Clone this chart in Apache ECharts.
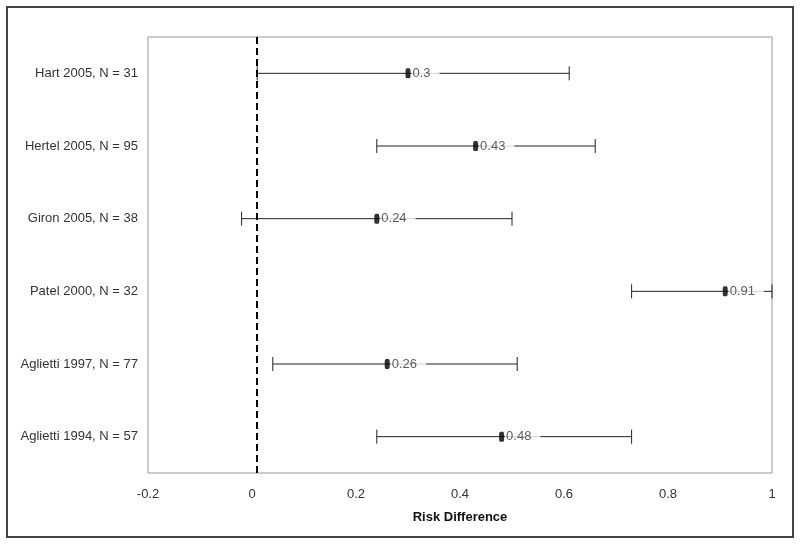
<!DOCTYPE html>
<html>
<head>
<meta charset="utf-8">
<title>Risk Difference</title>
<script src="https://cdn.jsdelivr.net/npm/echarts@6/dist/echarts.min.js"></script>
<style>
  html, body { margin: 0; padding: 0; background: #fff; }
  #main { width: 800px; height: 545px; }
</style>
</head>
<body>
<div id="main"></div>
<script>
// studies, top to bottom
const studies = ['Hart 2005, N = 31', 'Hertel 2005, N = 95', 'Giron 2005, N = 38', 'Patel 2000, N = 32', 'Aglietti 1997, N = 77', 'Aglietti 1994, N = 57']
const estimates = [0.3, 0.43, 0.24, 0.91, 0.26, 0.48]
const lowerCI = [0.01, 0.24, -0.02, 0.73, 0.04, 0.24]
const upperCI = [0.61, 0.66, 0.50, 1.0, 0.51, 0.73]
const nullLine = 0.01

const font = 'Liberation Sans, Arial, sans-serif'

const ciData = studies.map((s, i) => [lowerCI[i], upperCI[i], i])
const pointData = studies.map((s, i) => [estimates[i], i])

const option = {
  backgroundColor: '#fff',
  animation: false,
  textStyle: { fontFamily: font },
  graphic: [{
    type: 'rect',
    shape: { x: 7, y: 7, width: 786, height: 530 },
    style: { fill: 'none', stroke: '#444', lineWidth: 2 },
    silent: true
  }],
  grid: {
    left: 148,
    right: 28,
    top: 37,
    bottom: 72,
    show: true,
    borderColor: '#999',
    borderWidth: 1
  },
  xAxis: {
    type: 'value',
    min: -0.2,
    max: 1,
    interval: 0.2,
    name: 'Risk Difference',
    nameLocation: 'middle',
    nameGap: 38,
    nameTextStyle: { color: '#111', fontSize: 13, fontWeight: 'bold', fontFamily: font },
    axisLine: { show: false },
    axisTick: { show: false },
    splitLine: { show: false },
    axisLabel: {
      color: '#333',
      fontSize: 13,
      margin: 15,
      formatter: v => String(Math.round(v * 10) / 10)
    }
  },
  yAxis: {
    type: 'category',
    data: studies,
    inverse: true,
    axisLine: { show: false },
    axisTick: { show: false },
    splitLine: { show: false },
    axisLabel: { color: '#333', fontSize: 13, margin: 10 }
  },
  series: [{
    type: 'custom',
    data: ciData,
    z: 2,
    renderItem: function(params, api) {
      const a = api.coord([api.value(0), api.value(2)])
      const b = api.coord([api.value(1), api.value(2)])
      const h = 7
      const style = { stroke: '#222', lineWidth: 1 }
      return {
        type: 'group',
        children: [
          { type: 'line', shape: { x1: a[0], y1: a[1], x2: b[0], y2: b[1] }, style },
          { type: 'line', shape: { x1: a[0], y1: a[1] - h, x2: a[0], y2: a[1] + h }, style },
          { type: 'line', shape: { x1: b[0], y1: b[1] - h, x2: b[0], y2: b[1] + h }, style }
        ]
      }
    }
  }, {
    type: 'scatter',
    data: pointData,
    z: 5,
    symbol: 'roundRect',
    symbolSize: [5, 10],
    itemStyle: { color: '#000' },
    label: {
      show: true,
      position: 'right',
      distance: 1,
      color: '#333',
      fontSize: 13,
      backgroundColor: '#fff',
      padding: [2, 9, 2, 1],
      formatter: p => String(p.value[0])
    },
    markLine: {
      silent: true,
      symbol: 'none',
      label: { show: false },
      lineStyle: { color: '#000', width: 2, type: [7, 4] },
      data: [{ xAxis: nullLine }]
    }
  }]
}

const myChart = echarts.init(document.getElementById('main'))
myChart.setOption(option)
</script>
</body>
</html>
